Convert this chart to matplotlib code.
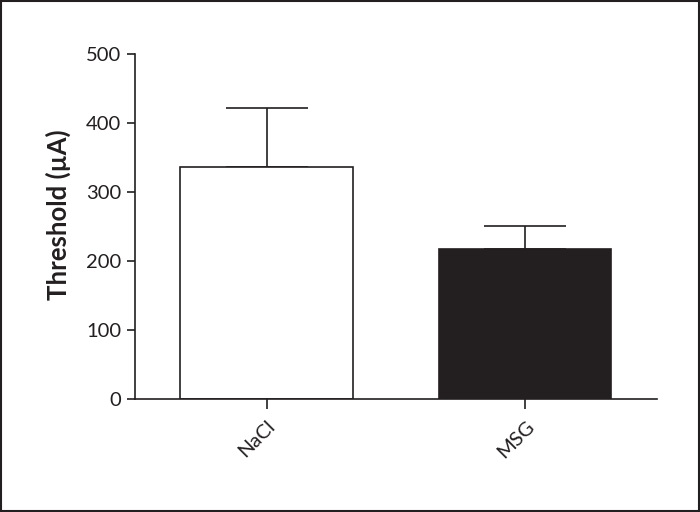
import matplotlib.pyplot as plt
from matplotlib.patches import Rectangle

# Threshold data
groups = ["NaCl", "MSG"]
means = [337, 217]
errors = [85, 34]
fill_colors = ["white", "#231f20"]

INK = "#231f20"

plt.rcParams["font.family"] = ["Lato", "DejaVu Sans"]

fig = plt.figure(figsize=(7.0, 5.12), dpi=100)
ax = fig.add_axes([0.193, 0.22, 0.745, 0.6745])

positions = range(len(groups))
ax.bar(positions, means, width=0.665, color=fill_colors, edgecolor=INK,
       linewidth=1.2, zorder=2)
ax.errorbar(positions, means, yerr=[[0, 0], errors], fmt="none",
            ecolor=INK, elinewidth=1.2, capsize=29.5, capthick=1.2, zorder=1)

ax.set_xlim(-0.508, 1.508)
ax.set_ylim(0, 500)
ax.set_yticks(range(0, 501, 100))
ax.set_xticks(list(positions))
ax.set_xticklabels(groups, rotation=45, ha="right", rotation_mode="anchor")

ax.spines["top"].set_visible(False)
ax.spines["right"].set_visible(False)
for side in ["left", "bottom"]:
    ax.spines[side].set_linewidth(1.2)
    ax.spines[side].set_color(INK)

ax.tick_params(axis="y", length=6, width=1.2, color=INK, labelsize=14.5,
               labelcolor=INK, pad=4)
ax.tick_params(axis="x", length=7, width=1.2, color=INK, labelsize=14.5,
               labelcolor=INK, pad=6)
ax.set_ylabel("Threshold (µA)", fontsize=18.5, fontweight="bold", color=INK,
              va="center")
ax.yaxis.set_label_coords(-0.148, 0.535)

# thin frame around the whole figure
fig.patches.append(Rectangle((0.001, 0.002), 0.997, 0.996, transform=fig.transFigure,
                             fill=False, edgecolor=INK, linewidth=1.5))

fig.savefig("out.png", dpi=100)
